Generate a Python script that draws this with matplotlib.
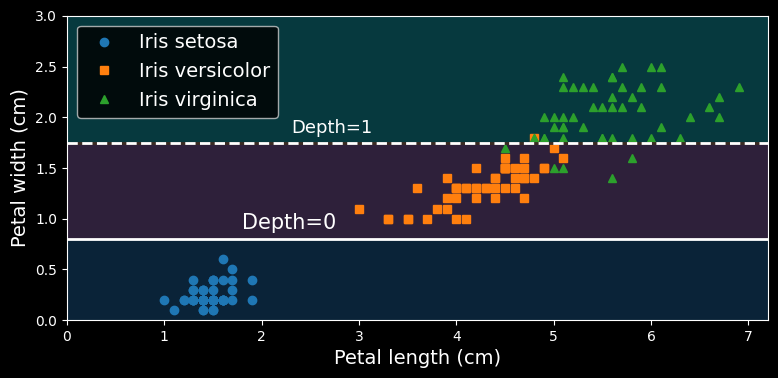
import numpy as np
import matplotlib.pyplot as plt

# iris petal measurements (length, width) per species
setosa_len = [1.4, 1.4, 1.3, 1.5, 1.4, 1.7, 1.4, 1.5, 1.4, 1.5, 1.5, 1.6, 1.4, 1.1, 1.2, 1.5, 1.3,
              1.4, 1.7, 1.5, 1.7, 1.5, 1.0, 1.7, 1.9, 1.6, 1.6, 1.5, 1.4, 1.6, 1.6, 1.5, 1.5, 1.4,
              1.5, 1.2, 1.3, 1.4, 1.3, 1.5, 1.3, 1.3, 1.3, 1.6, 1.9, 1.4, 1.6, 1.4, 1.5, 1.4]
setosa_wid = [0.2, 0.2, 0.2, 0.2, 0.2, 0.4, 0.3, 0.2, 0.2, 0.1, 0.2, 0.2, 0.1, 0.1, 0.2, 0.4, 0.4,
              0.3, 0.3, 0.3, 0.2, 0.4, 0.2, 0.5, 0.2, 0.2, 0.4, 0.2, 0.2, 0.2, 0.2, 0.4, 0.1, 0.2,
              0.2, 0.2, 0.2, 0.1, 0.2, 0.2, 0.3, 0.3, 0.2, 0.6, 0.4, 0.3, 0.2, 0.2, 0.2, 0.2]
versi_len = [4.7, 4.5, 4.9, 4.0, 4.6, 4.5, 4.7, 3.3, 4.6, 3.9, 3.5, 4.2, 4.0, 4.7, 3.6, 4.4, 4.5,
             4.1, 4.5, 3.9, 4.8, 4.0, 4.9, 4.7, 4.3, 4.4, 4.8, 5.0, 4.5, 3.5, 3.8, 3.7, 3.9, 5.1,
             4.5, 4.5, 4.7, 4.4, 4.1, 4.0, 4.4, 4.6, 4.0, 3.3, 4.2, 4.2, 4.2, 4.3, 3.0, 4.1]
versi_wid = [1.4, 1.5, 1.5, 1.3, 1.5, 1.3, 1.6, 1.0, 1.3, 1.4, 1.0, 1.5, 1.0, 1.4, 1.3, 1.4, 1.5,
             1.0, 1.5, 1.1, 1.8, 1.3, 1.5, 1.2, 1.3, 1.4, 1.4, 1.7, 1.5, 1.0, 1.1, 1.0, 1.2, 1.6,
             1.5, 1.6, 1.5, 1.3, 1.3, 1.3, 1.2, 1.4, 1.2, 1.0, 1.3, 1.2, 1.3, 1.3, 1.1, 1.3]
virg_len = [6.0, 5.1, 5.9, 5.6, 5.8, 6.6, 4.5, 6.3, 5.8, 6.1, 5.1, 5.3, 5.5, 5.0, 5.1, 5.3, 5.5,
            6.7, 6.9, 5.0, 5.7, 4.9, 6.7, 4.9, 5.7, 6.0, 4.8, 4.9, 5.6, 5.8, 6.1, 6.4, 5.6, 5.1,
            5.6, 6.1, 5.6, 5.5, 4.8, 5.4, 5.6, 5.1, 5.1, 5.9, 5.7, 5.2, 5.0, 5.2, 5.4, 5.1]
virg_wid = [2.5, 1.9, 2.1, 1.8, 2.2, 2.1, 1.7, 1.8, 1.8, 2.5, 2.0, 1.9, 2.1, 2.0, 2.4, 2.3, 1.8,
            2.2, 2.3, 1.5, 2.3, 2.0, 2.0, 1.8, 2.1, 1.8, 1.8, 1.8, 2.1, 1.6, 1.9, 2.0, 2.2, 1.5,
            1.4, 2.3, 2.4, 1.8, 1.8, 2.1, 2.4, 2.3, 1.9, 2.3, 2.5, 2.3, 1.9, 2.0, 2.3, 1.8]

# decision thresholds on petal width
th_depth0 = 0.8
th_depth1 = 1.75
region_colors = ["#0a2338", "#2e203a", "#06393e"]

plt.style.use("dark_background")
fig = plt.figure(figsize=(7.78, 3.78), dpi=100)
ax = fig.add_axes([0.086, 0.153, 0.901, 0.805])

xmin, xmax, ymin, ymax = 0, 7.2, 0, 3
bounds = [ymin, th_depth0, th_depth1, ymax]
for lo, hi, c in zip(bounds[:-1], bounds[1:], region_colors):
    ax.fill_between([xmin, xmax], lo, hi, color=c, lw=0)

ax.plot(setosa_len, setosa_wid, "o", color="#1f77b4", label="Iris setosa")
ax.plot(versi_len, versi_wid, "s", color="#ff7f0e", label="Iris versicolor")
ax.plot(virg_len, virg_wid, "^", color="#2ca02c", label="Iris virginica")

ax.plot([xmin, xmax], [th_depth0, th_depth0], "w-", linewidth=2)
ax.plot([xmin, xmax], [th_depth1, th_depth1], color="#3b2b22", linewidth=2)
ax.plot([xmin, xmax], [th_depth1, th_depth1], "w--", linewidth=2)
ax.text(1.8, th_depth0 + 0.1, "Depth=0", fontsize=15)
ax.text(2.3, th_depth1 + 0.1, "Depth=1", fontsize=13)

ax.set_xlim(xmin, xmax)
ax.set_ylim(ymin, ymax)
ax.set_xlabel("Petal length (cm)", fontsize=14)
ax.set_ylabel("Petal width (cm)", fontsize=14)
ax.legend(loc="upper left", fontsize=14)

plt.savefig("out.png")
